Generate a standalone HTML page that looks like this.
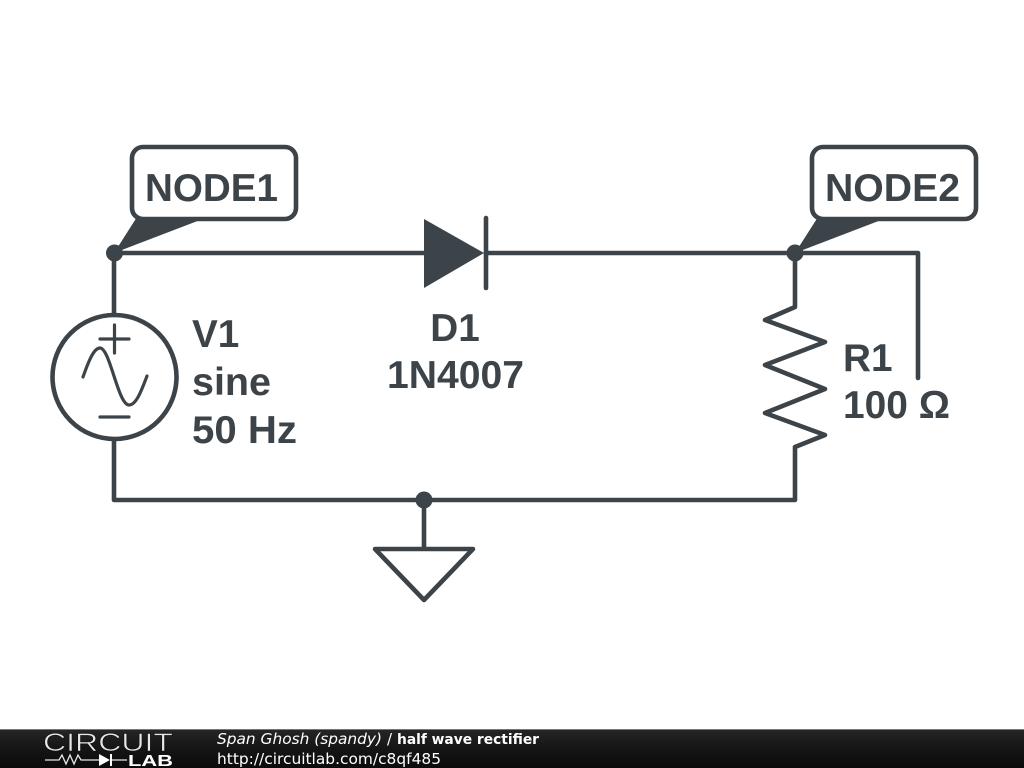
<!DOCTYPE html>
<html>
<head>
<meta charset="utf-8">
<style>
html,body{margin:0;padding:0;background:#fff;width:1024px;height:768px;overflow:hidden}
svg{display:block;position:absolute;left:0;top:0}
</style>
</head>
<body>
<svg width="1024" height="768" viewBox="0 0 1024 768" xmlns="http://www.w3.org/2000/svg">
<defs>
<linearGradient id="f" x1="0" y1="0" x2="0" y2="1">
<stop offset="0" stop-color="#262626"/>
<stop offset="0.5" stop-color="#151515"/>
<stop offset="1" stop-color="#0b0b0b"/>
</linearGradient>
</defs>
<rect width="1024" height="768" fill="#fff"/>
<g fill="none" stroke="#3d4449" stroke-width="4.600" stroke-linecap="round" stroke-linejoin="round">
<path d="M114 253H424M486 253H918V378"/>
<path d="M114 253V315M114 439V500H795V447L825 435L765 413L825 389L765 365L825 342L765 320L795 307V253"/>
<circle cx="114.500" cy="377" r="62"/>
<path d="M486 218V288"/>
<path d="M424 500V549M375 549H473L424 600Z"/>
<rect x="132" y="147" width="164" height="72" rx="11" ry="11"/>
<rect x="812" y="147" width="164" height="72" rx="11" ry="11"/>
</g>
<g fill="none" stroke="#3d4449" stroke-width="3.200" stroke-linecap="round" stroke-linejoin="round">
<path d="M100 339H129M114.500 325V353M100 417H129"/>
<path d="M83 377C89 360 94 348 100 348C110 348 118 405 129 405C136 405 141 392 147 376"/>
</g>
<g fill="#3d4449">
<path d="M424 219L484 253L424 288Z"/>
<circle cx="114.500" cy="253" r="8.500"/>
<circle cx="795" cy="253" r="8.500"/>
<circle cx="424" cy="500" r="8.500"/>
<path d="M114 253L137 217H208Z"/>
<path d="M795 253L818 217H889Z"/>
</g>
<g font-family="'Liberation Sans',sans-serif" font-weight="700" font-size="38.700" fill="#3d4449">
<text x="145" y="201" textLength="133" lengthAdjust="spacingAndGlyphs">NODE1</text>
<text x="825" y="201" textLength="135" lengthAdjust="spacingAndGlyphs">NODE2</text>
<text x="192" y="347">V1</text>
<text x="192" y="395" textLength="79" lengthAdjust="spacingAndGlyphs">sine</text>
<text x="192" y="443" textLength="105" lengthAdjust="spacingAndGlyphs">50 Hz</text>
<text x="455" y="341" text-anchor="middle">D1</text>
<text x="387" y="388" textLength="137" lengthAdjust="spacingAndGlyphs">1N4007</text>
<text x="843" y="371">R1</text>
<text x="843" y="418" textLength="107" lengthAdjust="spacingAndGlyphs">100 Ω</text>
</g>
<rect x="0" y="729" width="1024" height="39" fill="url(#f)"/>
<rect x="0" y="729" width="1024" height="1" fill="#777"/>
<text x="43" y="751" font-family="'Liberation Sans',sans-serif" font-size="25" fill="#e8e8e8" stroke="#111" stroke-width="0.6" textLength="130" lengthAdjust="spacingAndGlyphs">CIRCUIT</text>
<path d="M45 760H59L62 755L66 764L70 755L74 764L78 755L81 760H100M112 760H127" fill="none" stroke="#e8e8e8" stroke-width="1.300"/>
<path d="M99 754L110 760L99 766Z" fill="#fff"/>
<path d="M111 754V766" stroke="#fff" stroke-width="2"/>
<text x="128" y="766" font-family="'Liberation Sans',sans-serif" font-weight="700" font-size="16" fill="#fff" textLength="45" lengthAdjust="spacingAndGlyphs">LAB</text>
<g font-family="'DejaVu Sans',sans-serif" font-size="15" fill="#fff">
<text x="217" y="744" font-style="italic" textLength="165" lengthAdjust="spacingAndGlyphs">Span Ghosh (spandy)</text>
<text x="387" y="744">/</text>
<text x="397" y="744" font-weight="700" font-size="14.500" textLength="142" lengthAdjust="spacingAndGlyphs">half wave rectifier</text>
<text x="217" y="764" textLength="224" lengthAdjust="spacingAndGlyphs">http://circuitlab.com/c8qf485</text>
</g>
</svg>
</body>
</html>
